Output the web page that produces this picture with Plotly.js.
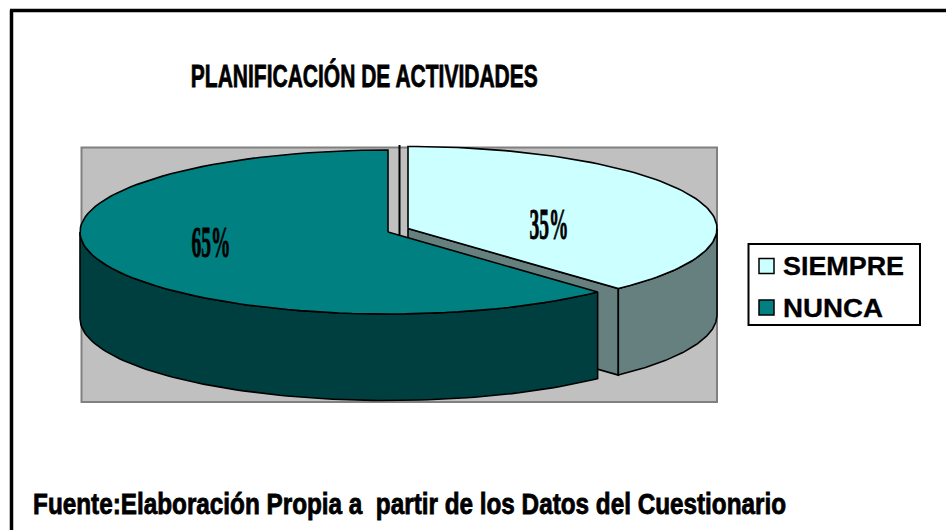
<!DOCTYPE html>
<html>
<head>
<meta charset="utf-8">
<script src="https://cdn.plot.ly/plotly-3.0.1.min.js"></script>
<style>
html,body{margin:0;padding:0;background:#fff;overflow:hidden}
#chart{width:946px;height:530px}
</style>
</head>
<body>
<div id="chart"></div>
<script>
// ---- data ----
const categories = ["SIEMPRE", "NUNCA"];
const values = [35, 65];
const valueLabels = ["35%", "65%"];
const topColors = ["#CCFFFF", "#008080"];
const wallColors = ["#668080", "#003F3F"];
const chartTitle = "PLANIFICACIÓN DE ACTIVIDADES";
const footer = "Fuente:Elaboración Propia a\u00a0\u00a0partir de los Datos del Cuestionario";

// ---- geometry of the tilted pie ----
const radiiX = [309, 308], ry = 82, depth = 86.5;
const centers = [[408, 228.5], [388, 232]];
const foreshorten = 0.675;   // in-plane squeeze of the tilted pie
const total = values.reduce((a, b) => a + b, 0);
const deg = v => v / total * 2 * Math.PI;
const view = t => Math.atan2(foreshorten * Math.sin(t), Math.cos(t));
const norm = t => { const a = view(t); return a < -1e-9 ? a + 2 * Math.PI : a; };

function arc(i, a0, a1, dy) {
  const c = centers[i], rx = radiiX[i], pts = [], n = 90;
  for (let k = 0; k <= n; k++) {
    const a = a0 + (a1 - a0) * k / n;
    pts.push([c[0] + rx * Math.sin(a), c[1] - ry * Math.cos(a) + (dy || 0)]);
  }
  return pts;
}
function poly(pts, fill) {
  const closed = pts.concat([pts[0]]);
  return {
    type: "scatter", mode: "lines", fill: "toself", fillcolor: fill,
    x: closed.map(p => p[0]), y: closed.map(p => p[1]),
    line: {color: "#000", width: 1.6}, hoverinfo: "skip", showlegend: false
  };
}

const split = norm(deg(values[0]));
const [cS, cN] = centers;
const traces = [];

// first slice: cut wall, rim wall, top
traces.push(poly([[cS[0], cS[1]], arc(0, split, split, 0)[0], arc(0, split, split, depth)[0], [cS[0], cS[1] + depth]], wallColors[0]));
traces.push(poly(arc(0, Math.PI / 2, split, 0).concat(arc(0, split, Math.PI / 2, depth)), wallColors[0]));
traces.push(poly([[cS[0], cS[1]]].concat(arc(0, 0, split, 0)), topColors[0]));
// second slice: rim wall, top
traces.push(poly(arc(1, split, 1.5 * Math.PI, 0).concat(arc(1, 1.5 * Math.PI, split, depth)), wallColors[1]));
traces.push(poly([[cN[0], cN[1]]].concat(arc(1, split, 2 * Math.PI, 0)), topColors[1]));

// legend swatches
const legendY = [266, 307.5];
traces.push({
  type: "scatter", mode: "markers", x: categories.map(() => 766.5), y: legendY,
  marker: {symbol: "square", size: 15, color: topColors, line: {color: "#000", width: 1.5}},
  hoverinfo: "skip", showlegend: false
});

const txt = (text, x, y, size, family) => ({
  text, x, y, xref: "x", yref: "y", showarrow: false, xanchor: "center", yanchor: "middle",
  font: {family: family || "Liberation Sans", size, color: "#000", weight: 700}
});
const annotations = [
  txt(chartTitle, 364.5, 76, 32),
  txt(valueLabels[0], 549, 224, 44, "Liberation Serif"),
  txt(valueLabels[1], 211, 242, 44, "Liberation Serif"),
  txt(footer, 409.5, 504, 29),
  txt(categories[0], 843, 266, 26),
  txt(categories[1], 832.5, 307.5, 26)
];
const fitWidths = {}, heavy = {};
fitWidths[chartTitle] = 347;      heavy[chartTitle] = 0.8;
fitWidths[valueLabels[0]] = 39;   heavy[valueLabels[0]] = 0.9;
fitWidths[valueLabels[1]] = 39;   heavy[valueLabels[1]] = 0.9;
fitWidths[footer] = 753;          heavy[footer] = 0.8;
fitWidths[categories[0]] = 121;   heavy[categories[0]] = 0.3;
fitWidths[categories[1]] = 100;   heavy[categories[1]] = 0.3;

const line = (x0, y0, x1, y1, color, width) => ({type: "line", x0, y0, x1, y1, xref: "x", yref: "y", layer: "below", line: {color, width}});
const shapes = [
  {type: "rect", x0: 81.5, y0: 147.5, x1: 717, y1: 402, xref: "x", yref: "y", layer: "below", fillcolor: "#C0C0C0", line: {color: "#808080", width: 2}},
  line(399.5, 145, 399.5, 236, "#000", 2),
  line(11.5, 10, 11.5, 530, "#000", 3.5),
  line(10, 10.5, 946, 10.5, "#000", 3.5),
  {type: "rect", x0: 748.5, y0: 244, x1: 920, y1: 325, xref: "x", yref: "y", layer: "below", fillcolor: "#fff", line: {color: "#000", width: 2}}
];

const layout = {
  width: 946, height: 530, margin: {l: 0, r: 0, t: 0, b: 0},
  paper_bgcolor: "#fff", plot_bgcolor: "#fff", showlegend: false,
  xaxis: {range: [0, 946], visible: false, fixedrange: true},
  yaxis: {range: [530, 0], visible: false, fixedrange: true},
  annotations, shapes
};

Plotly.newPlot("chart", traces, layout, {displayModeBar: false, staticPlot: true}).then(() => {
  document.querySelectorAll(".annotation-text").forEach(t => {
    const key = t.textContent, w = fitWidths[key];
    if (w) {
      t.setAttribute("textLength", w);
      t.setAttribute("lengthAdjust", "spacingAndGlyphs");
      t.style.stroke = "#000";
      t.style.strokeWidth = heavy[key] + "px";
    }
  });
});
</script>
</body>
</html>
